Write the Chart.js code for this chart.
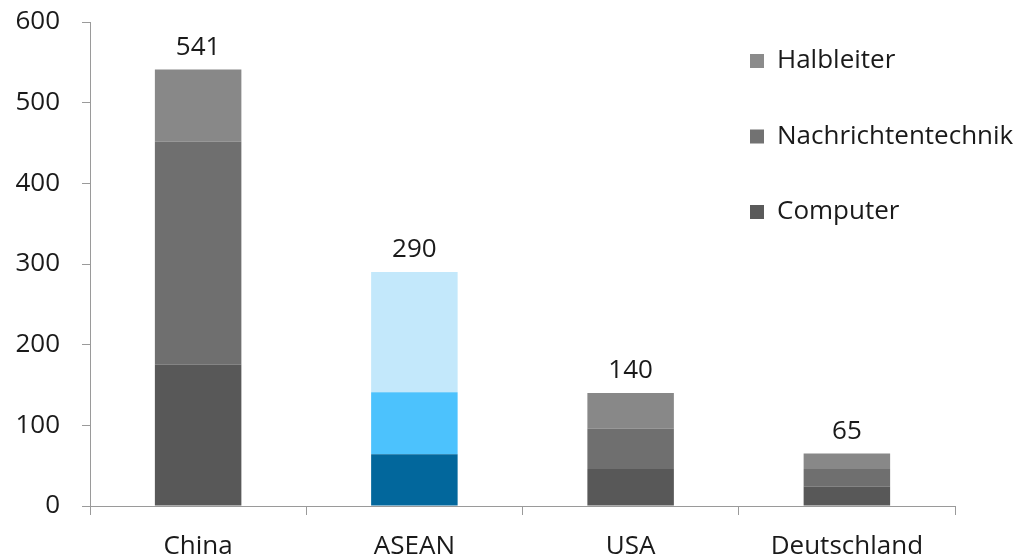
<!DOCTYPE html>
<html>
<head>
<meta charset="utf-8">
<script src="https://cdn.jsdelivr.net/npm/chart.js@4/dist/chart.umd.min.js"></script>
<style>
  html, body { margin: 0; padding: 0; background: #fff; }
  #wrap { width: 1031px; height: 558px; position: relative; }
</style>
</head>
<body>
<div id="wrap"><canvas id="chart"></canvas></div>
<script>
const regions = ['China', 'ASEAN', 'USA', 'Deutschland'];
const computer = [175, 64, 46, 24];
const nachrichtentechnik = [277, 77, 50, 22];
const halbleiter = [89, 149, 44, 19];
const yTicks = [0, 100, 200, 300, 400, 500, 600];

const gray = { computer: '#585858', nachricht: '#6f6f6f', halbleiter: '#888888' };
const blue = { computer: '#02679c', nachricht: '#4cc2fd', halbleiter: '#c3e8fb' };
const FONT = '"Open Sans", "Liberation Sans", sans-serif';

// ASEAN bar is blue, the others gray
function colorsFor(key) {
    return regions.map(r => r === 'ASEAN' ? blue[key] : gray[key]);
}

const legendItems = [
    { text: 'Halbleiter', color: '#8b8b8b' },
    { text: 'Nachrichtentechnik', color: '#727272' },
    { text: 'Computer', color: '#5a5a5a' }
];

// totals above each bar
const totalsPlugin = {
    id: 'totals',
    afterDatasetsDraw(chart) {
        const ctx = chart.ctx;
        const y = chart.scales.y;
        const top = chart.getDatasetMeta(chart.data.datasets.length - 1);
        ctx.save();
        ctx.font = '26px ' + FONT;
        ctx.fillStyle = '#1a1a1a';
        ctx.textAlign = 'center';
        ctx.textBaseline = 'bottom';
        regions.forEach((r, i) => {
            const total = chart.data.datasets.reduce((s, ds) => s + ds.data[i], 0);
            ctx.fillText(String(total), top.data[i].x, y.getPixelForValue(total) - 9);
        });
        ctx.restore();
    }
};

// legend drawn inside the plot, to the right
const legendPlugin = {
    id: 'sideLegend',
    afterDraw(chart) {
        const ctx = chart.ctx;
        ctx.save();
        ctx.font = '26px ' + FONT;
        ctx.textBaseline = 'middle';
        ctx.textAlign = 'left';
        legendItems.forEach((it, i) => {
            const cy = 61 + i * 75.5;
            ctx.fillStyle = it.color;
            ctx.fillRect(750, cy - 7, 14, 14);
            ctx.fillStyle = '#1a1a1a';
            ctx.fillText(it.text, 777, cy);
        });
        ctx.restore();
    }
};

new Chart(document.getElementById('chart'), {
    type: 'bar',
    data: {
        labels: regions,
        datasets: [
            { label: 'Computer', data: computer, backgroundColor: colorsFor('computer') },
            { label: 'Nachrichtentechnik', data: nachrichtentechnik, backgroundColor: colorsFor('nachricht') },
            { label: 'Halbleiter', data: halbleiter, backgroundColor: colorsFor('halbleiter') }
        ]
    },
    options: {
        responsive: true,
        maintainAspectRatio: false,
        animation: false,
        layout: { padding: { left: 0, right: 76, top: 22, bottom: 0 } },
        plugins: {
            legend: { display: false },
            tooltip: { enabled: false }
        },
        datasets: {
            bar: { categoryPercentage: 1, barPercentage: 0.4 }
        },
        scales: {
            x: {
                stacked: true,
                afterFit(axis) { axis.height = 52; },
                grid: {
                    offset: true,
                    drawOnChartArea: false,
                    color: '#9a9a9a',
                    tickLength: 9
                },
                border: { color: '#9a9a9a', width: 1 },
                ticks: {
                    color: '#1a1a1a',
                    font: { family: FONT, size: 26 },
                    padding: 16
                }
            },
            y: {
                stacked: true,
                min: 0,
                max: 600,
                afterBuildTicks(axis) {
                    axis.ticks = yTicks.map(v => ({ value: v }));
                },
                afterFit(axis) {
                    axis.width = 90;
                    axis.paddingTop = 0;
                    axis.paddingBottom = 0;
                },
                grid: {
                    drawOnChartArea: false,
                    color: '#9a9a9a',
                    tickLength: 8
                },
                border: { color: '#9a9a9a', width: 1 },
                ticks: {
                    color: '#1a1a1a',
                    font: { family: FONT, size: 26 },
                    padding: 22
                }
            }
        }
    },
    plugins: [totalsPlugin, legendPlugin]
});
</script>
</body>
</html>
